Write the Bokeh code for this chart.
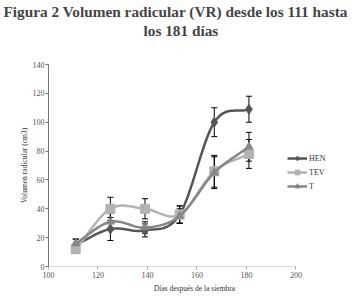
import numpy as np
from bokeh.plotting import figure
from bokeh.models import Range1d, Title, Whisker, ColumnDataSource, Legend, LegendItem
from bokeh.embed import file_html
from bokeh.resources import INLINE

days = [111, 125, 139, 153, 167, 181]
hen = [15, 26, 25, 36, 100, 109]
hen_err = [4, 8, 4.5, 6, 10, 9]
tev = [12, 40, 40, 36, 66, 78]
tev_err = [3, 8, 7, 6, 11, 10]
t_vals = [16, 31, 27, 35, 65, 83]
t_err = [3, 6, 4, 5, 11, 10]
x_ticks = [100, 120, 140, 160, 180, 200]
y_ticks = [0, 20, 40, 60, 80, 100, 120, 140]

FONT = "Liberation Serif"


def smooth(xs, ys, n=16):
    xs = np.asarray(xs, float)
    ys = np.asarray(ys, float)
    px = np.concatenate([[2 * xs[0] - xs[1]], xs, [2 * xs[-1] - xs[-2]]])
    py = np.concatenate([[2 * ys[0] - ys[1]], ys, [2 * ys[-1] - ys[-2]]])
    ox, oy = [], []
    for i in range(1, len(px) - 2):
        for s in np.linspace(0, 1, n, endpoint=False):
            s2, s3 = s * s, s * s * s
            def cr(p):
                return 0.5 * ((2 * p[i]) + (-p[i - 1] + p[i + 1]) * s
                              + (2 * p[i - 1] - 5 * p[i] + 4 * p[i + 1] - p[i + 2]) * s2
                              + (-p[i - 1] + 3 * p[i] - 3 * p[i + 1] + p[i + 2]) * s3)
            ox.append(cr(px))
            oy.append(cr(py))
    ox.append(xs[-1])
    oy.append(ys[-1])
    return ox, oy


p = figure(frame_width=292, frame_height=202, output_backend="svg", toolbar_location=None,
           x_range=Range1d(100, 218), y_range=Range1d(0, 140),
           min_border_left=48, min_border_right=16, min_border_top=61, min_border_bottom=33)
p.outline_line_color = None
p.grid.visible = False
p.background_fill_color = "white"

p.xaxis.ticker = x_ticks
p.yaxis.ticker = y_ticks
p.xaxis.bounds = (100, 200)
for ax in (p.xaxis, p.yaxis):
    ax.major_label_text_font = FONT
    ax.major_label_text_font_size = "8px"
    ax.major_label_text_color = "#555555"
    ax.axis_label_text_font = FONT
    ax.axis_label_text_font_size = "7.5px"
    ax.axis_label_text_font_style = "normal"
    ax.axis_label_text_color = "#333333"
    ax.minor_tick_line_color = None
    ax.major_tick_in = 0
    ax.major_tick_out = 3
    ax.major_label_standoff = 2
    ax.axis_label_standoff = 3
p.yaxis.major_label_standoff = 1
p.yaxis.axis_label_standoff = 1
p.xaxis.axis_label = "Días después de la siembra"
p.yaxis.axis_label = "Volumen radicular (cm3)"
p.xaxis.axis_line_color = "#aaaaaa"
p.xaxis.axis_line_dash = "1 1"
p.xaxis.major_tick_line_color = "#aaaaaa"
p.yaxis.axis_line_color = "#777777"
p.yaxis.major_tick_line_color = "#777777"

series = [
    ("HEN", hen, hen_err, "#555555", "diamond", 10),
    ("TEV", tev, tev_err, "#b3b3b3", "square", 9),
    ("T", t_vals, t_err, "#878787", "triangle", 8),
]

items = []
for name, ys, err, color, marker, size in series:
    src = ColumnDataSource(dict(x=days, y=ys,
                                lo=[a - b for a, b in zip(ys, err)],
                                hi=[a + b for a, b in zip(ys, err)]))
    w = Whisker(source=src, base="x", upper="hi", lower="lo",
                line_color="black", line_width=1)
    w.upper_head.size = 6
    w.lower_head.size = 6
    w.upper_head.line_color = "black"
    w.lower_head.line_color = "black"
    p.add_layout(w)
    sx, sy = smooth(days, ys)
    l = p.line(sx, sy, line_color=color, line_width=2.5)
    m = p.scatter("x", "y", source=src, marker=marker, size=size,
                  fill_color=color, line_color=color)
    items.append(LegendItem(label=name, renderers=[l, m]))

leg = Legend(items=items, location=(239, 74), label_text_font=FONT,
             label_text_font_size="8px", label_text_color="#333333",
             glyph_width=20, glyph_height=12, label_height=12, spacing=2,
             padding=0, margin=0, border_line_color=None,
             background_fill_alpha=0, label_standoff=2)
p.add_layout(leg, "center")

# spacer between the title block and the plot area
p.add_layout(Title(text=" ", align="left", text_font=FONT, text_font_size="10px",
                   standoff=13), "above")
p.add_layout(Title(text="los 181 días", align="left", text_font=FONT, offset=95,
                   text_font_size="15.3px", text_font_style="bold", standoff=0), "above")
p.add_layout(Title(text="Figura 2 Volumen radicular (VR) desde los 111 hasta", align="left",
                   offset=-45, text_font=FONT, text_font_size="15.3px",
                   text_font_style="bold", standoff=0), "above")

open("out.html", "w").write(file_html(p, INLINE))
